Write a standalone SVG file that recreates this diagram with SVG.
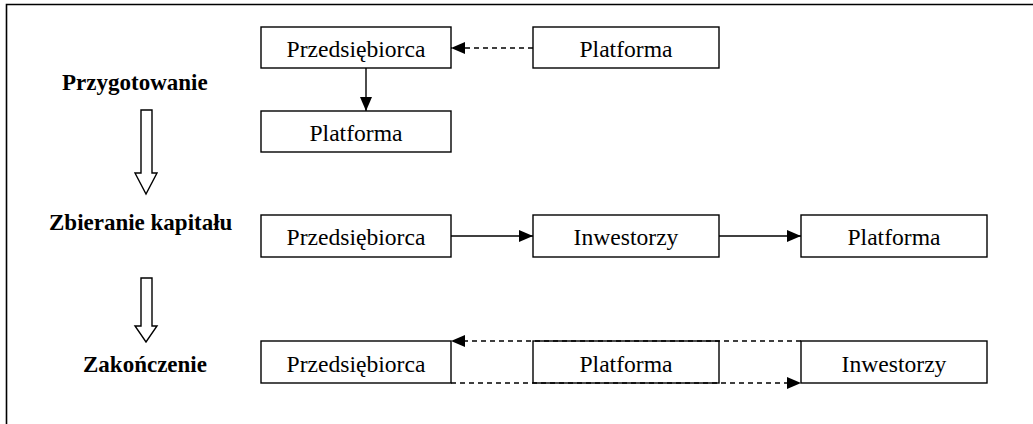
<svg xmlns="http://www.w3.org/2000/svg" width="1033" height="424" viewBox="0 0 1033 424">
<style>
.box{fill:#fff;stroke:#000;stroke-width:1.4}
.t{font-family:'Liberation Serif','Times New Roman',Tinos,'DejaVu Serif',serif;font-size:23.6px;fill:#000;text-anchor:middle}
.lbl{font-family:'Liberation Serif','Times New Roman',Tinos,'DejaVu Serif',serif;font-size:23px;font-weight:bold;fill:#000}
.c{fill:none;stroke:#000;stroke-width:1.4}
.d{stroke-dasharray:5 4}
.hollow{fill:#fff;stroke:#000;stroke-width:1.4}
</style>
<defs>
<marker id="ah" markerUnits="userSpaceOnUse" markerWidth="14" markerHeight="12" viewBox="0 0 14 12" refX="14" refY="6" orient="auto">
<path d="M0,0 L14,6 L0,12 Z" fill="#000"/>
</marker>
</defs>
<g id="frame">
<path d="M6.5,424 L6.5,4.5 L1033,4.5" fill="none" stroke="#000" stroke-width="1.6"/>
</g>
<g id="stage-labels">
<text class="lbl" x="62" y="90">Przygotowanie</text>
<text class="lbl" x="49" y="230">Zbieranie kapitału</text>
<text class="lbl" x="83" y="372">Zakończenie</text>
</g>
<g id="stage-arrows">
<path class="hollow" d="M141,110 L152,110 L152,173 L157,173 L146,194 L135,173 L141,173 Z"/>
<path class="hollow" d="M141,278 L152,278 L152,326 L157,326 L146,342 L135,326 L141,326 Z"/>
</g>
<g id="n1"><rect class="box" x="261" y="27" width="190" height="41"/><text class="t" x="356" y="57">Przedsiębiorca</text></g>
<g id="n2"><rect class="box" x="533" y="27" width="186" height="41"/><text class="t" x="626" y="57">Platforma</text></g>
<g id="n3"><rect class="box" x="261" y="111" width="190" height="41"/><text class="t" x="356" y="141">Platforma</text></g>
<g id="n4"><rect class="box" x="261" y="215" width="190" height="42"/><text class="t" x="356" y="245">Przedsiębiorca</text></g>
<g id="n5"><rect class="box" x="533" y="215" width="186" height="42"/><text class="t" x="626" y="245">Inwestorzy</text></g>
<g id="n6"><rect class="box" x="801" y="215" width="186" height="42"/><text class="t" x="894" y="245">Platforma</text></g>
<g id="n7"><rect class="box" x="261" y="341" width="190" height="42"/><text class="t" x="356" y="372">Przedsiębiorca</text></g>
<g id="n8"><rect class="box" x="533" y="341" width="186" height="42"/><text class="t" x="626" y="372">Platforma</text></g>
<g id="n9"><rect class="box" x="801" y="341" width="186" height="42"/><text class="t" x="894" y="372">Inwestorzy</text></g>
<g id="connectors">
<path class="c d" d="M533,48 L451,48" marker-end="url(#ah)"/>
<path class="c" d="M366,68 L366,111" marker-end="url(#ah)"/>
<path class="c" d="M451,236 L533,236" marker-end="url(#ah)"/>
<path class="c" d="M719,236 L801,236" marker-end="url(#ah)"/>
<path class="c d" d="M801,341 L451,341" marker-end="url(#ah)"/>
<path class="c d" d="M451,383 L801,383" marker-end="url(#ah)"/>
</g>
</svg>
